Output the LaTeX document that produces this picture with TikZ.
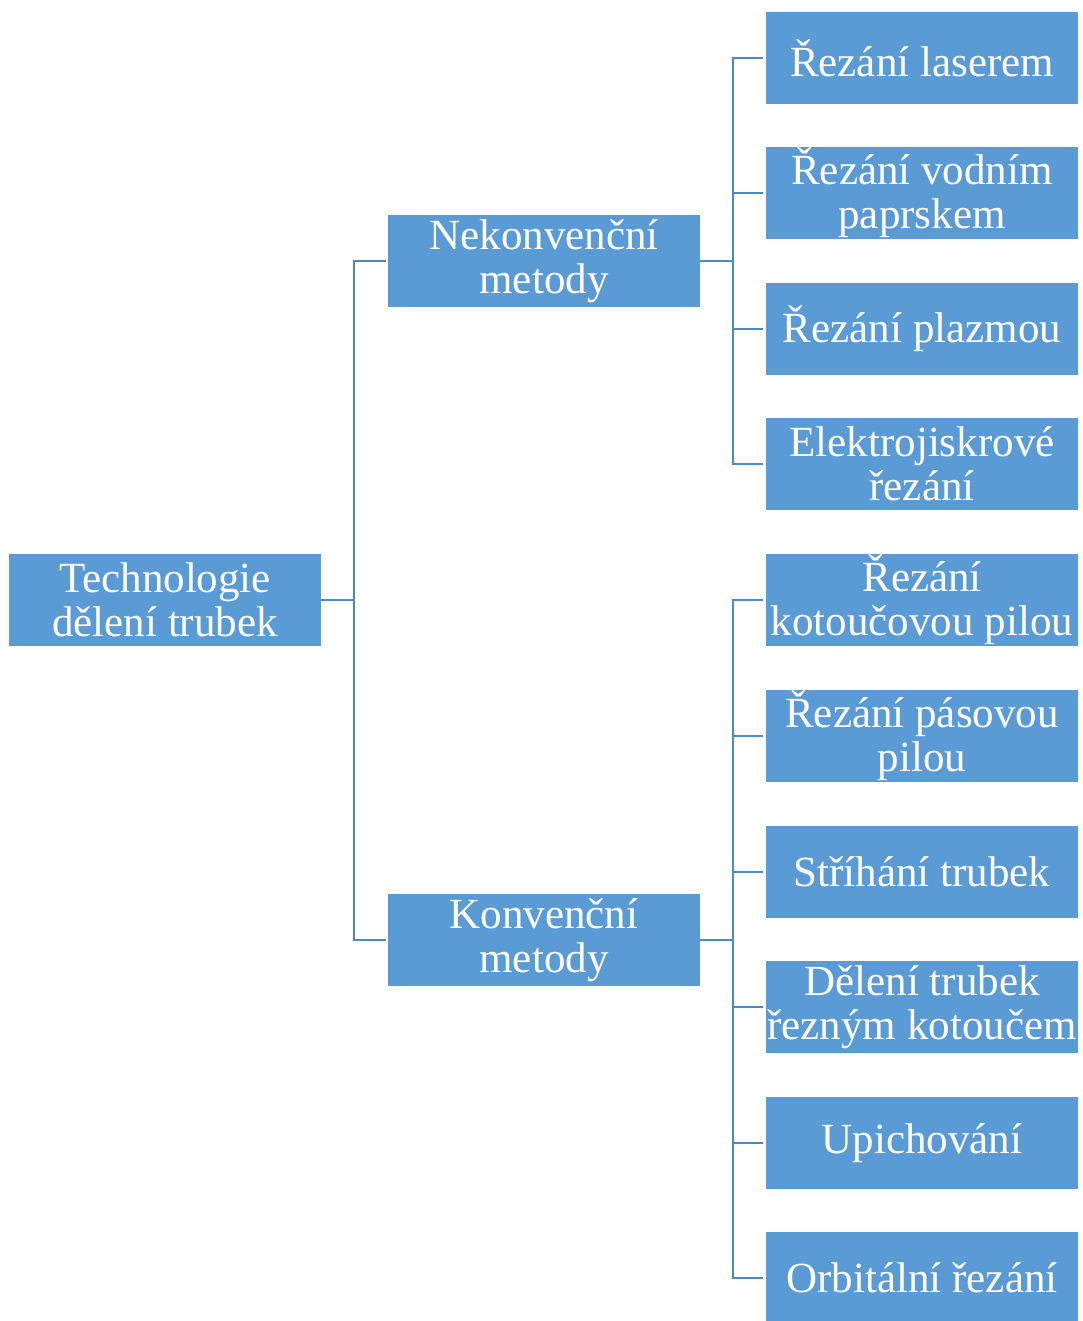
\documentclass[tikz,border=0pt]{standalone}
\usepackage{fontspec}
\setmainfont{Liberation Serif}
\definecolor{boxblue}{HTML}{5B9BD5}
\definecolor{lineblue}{HTML}{4F88C6}
\begin{document}
\begin{tikzpicture}[x=1pt,y=-1pt,
  box/.style={fill=boxblue,draw=none,minimum width=312pt,minimum height=92pt,inner sep=0pt,
    text=white,align=center,font=\fontsize{43}{44}\selectfont},
  conn/.style={draw=lineblue,line width=2pt}]
\useasboundingbox (0,0) rectangle (1082,1321);
\node[box] (root) at (165,600) {Technologie\\dělení trubek};
\node[box] (nek) at (544,261) {Nekonvenční\\metody};
\node[box] (kon) at (544,940) {Konvenční\\metody};
\node[box] (r1) at (922,58) {Řezání laserem};
\node[box] (r2) at (922,193) {Řezání vodním\\paprskem};
\node[box] (r3) at (922,329) {Řezání plazmou};
\node[box] (r4) at (922,464) {Elektrojiskrové\\řezání};
\node[box] (r5) at (922,600) {Řezání\\kotoučovou pilou};
\node[box] (r6) at (922,736) {Řezání pásovou\\pilou};
\node[box] (r7) at (922,872) {Stříhání trubek};
\node[box] (r8) at (922,1007) {Dělení trubek\\řezným kotoučem};
\node[box] (r9) at (922,1143) {Upichování};
\node[box] (r10) at (922,1278) {Orbitální řezání};
\coordinate (j0) at (354,600);
\coordinate (j1) at (733,261);
\coordinate (j2) at (733,940);
\draw[conn] (root.east) -- (j0);
\foreach \t in {nek,kon} \draw[conn] (j0) |- ([xshift=-2pt]\t.west);
\draw[conn] (nek.east) -- (j1);
\foreach \t in {r1,r2,r3,r4} \draw[conn] (j1) |- ([xshift=-3pt]\t.west);
\draw[conn] (kon.east) -- (j2);
\foreach \t in {r5,r6,r7,r8,r9,r10} \draw[conn] (j2) |- ([xshift=-3pt]\t.west);
\end{tikzpicture}
\end{document}
